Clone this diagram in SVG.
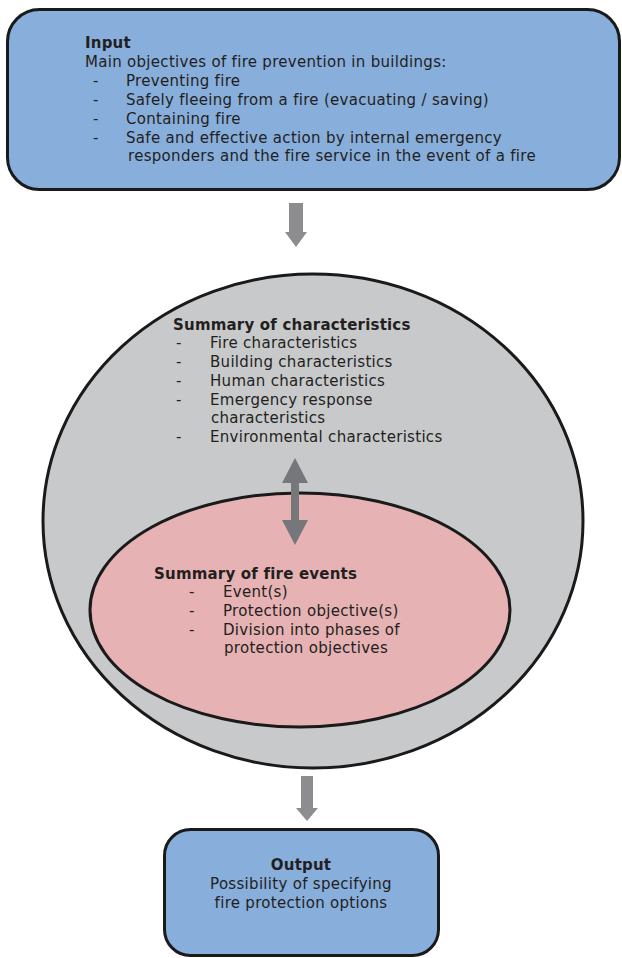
<svg xmlns="http://www.w3.org/2000/svg" width="622" height="958" viewBox="0 0 622 958">
<style>
text{font-family:"DejaVu Sans",Verdana,sans-serif;font-size:15px;letter-spacing:0.3px;fill:#231f20}
.b{font-weight:bold;letter-spacing:0.2px}
.box{fill:#88aedc;stroke:#1a1a1a;stroke-width:3}
.m{text-anchor:middle}
</style>
<rect width="622" height="958" fill="#fff"/>
<g id="input">
<rect class="box" x="7.5" y="9.5" width="612" height="180" rx="32"/>
<text class="b" x="85" y="48">Input</text>
<text x="85" y="67">Main objectives of fire prevention in buildings:</text>
<text x="93" y="86">-</text><text x="126" y="86">Preventing fire</text>
<text x="93" y="105">-</text><text x="126" y="105">Safely fleeing from a fire (evacuating / saving)</text>
<text x="93" y="124">-</text><text x="126" y="124">Containing fire</text>
<text x="93" y="143">-</text><text x="126" y="143">Safe and effective action by internal emergency</text>
<text x="128" y="161">responders and the fire service in the event of a fire</text>
</g>
<g id="characteristics">
<ellipse cx="313" cy="521" rx="270" ry="247" fill="#c8c9cb" stroke="#1a1a1a" stroke-width="3"/>
<text class="b" x="173" y="330">Summary of characteristics</text>
<text x="176" y="348">-</text><text x="210" y="348">Fire characteristics</text>
<text x="176" y="367">-</text><text x="210" y="367">Building characteristics</text>
<text x="176" y="386">-</text><text x="210" y="386">Human characteristics</text>
<text x="176" y="405">-</text><text x="210" y="405">Emergency response</text>
<text x="211" y="423">characteristics</text>
<text x="176" y="442">-</text><text x="210" y="442">Environmental characteristics</text>
</g>
<g id="fire-events">
<ellipse cx="300" cy="610" rx="210" ry="117" fill="#e6b2b3" stroke="#1a1a1a" stroke-width="3"/>
<text class="b" x="154" y="579">Summary of fire events</text>
<text x="189" y="597">-</text><text x="223" y="597">Event(s)</text>
<text x="189" y="616">-</text><text x="223" y="616">Protection objective(s)</text>
<text x="189" y="635">-</text><text x="223" y="635">Division into phases of</text>
<text x="224" y="653">protection objectives</text>
</g>
<g id="output">
<rect class="box" x="164.5" y="829.5" width="274" height="126" rx="26"/>
<text class="b m" x="301" y="870">Output</text>
<text class="m" x="301" y="889">Possibility of specifying</text>
<text class="m" x="301" y="908">fire protection options</text>
</g>
<g id="connectors">
<polygon points="289,203 303,203 303,232 307,232 296,247 285,232 289,232" fill="#8d8d8f"/>
<polygon points="295,458 308,483 299,483 299,520 308,520 295,545 282,520 291,520 291,483 282,483" fill="#76777a"/>
<polygon points="301,776 313,776 313,808 318,808 307,821 296,808 301,808" fill="#8d8d8f"/>
</g>
</svg>
